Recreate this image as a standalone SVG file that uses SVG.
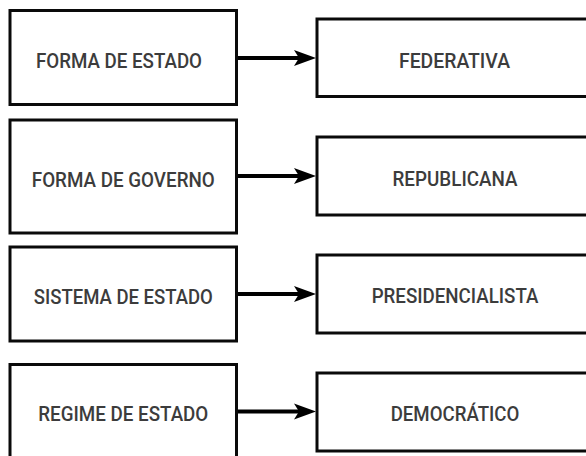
<svg xmlns="http://www.w3.org/2000/svg" width="586" height="456" viewBox="0 0 586 456">
  <style>
    .box { fill: #ffffff; stroke: #0a0a0a; stroke-width: 3; }
    .lbl { font-family: Roboto, "Liberation Sans", "DejaVu Sans", sans-serif; font-weight: 500; font-size: 21px; fill: #3c3c3c; text-anchor: middle; }
    .conn { stroke: #000; stroke-width: 4; fill: none; }
    .head { fill: #000; stroke: none; }
  </style>
  <defs>
    <path id="ah" d="M0,0 L-22,-8 L-17,0 L-22,8 Z"/>
  </defs>
  <rect width="586" height="456" fill="#ffffff"/>

  <g id="connectors">
    <line class="conn" x1="237" y1="58" x2="300" y2="58"/>
    <use href="#ah" class="head" x="316" y="58"/>
    <line class="conn" x1="237" y1="176" x2="300" y2="176"/>
    <use href="#ah" class="head" x="316" y="176"/>
    <line class="conn" x1="237" y1="294" x2="300" y2="294"/>
    <use href="#ah" class="head" x="316" y="294"/>
    <line class="conn" x1="237" y1="411.5" x2="300" y2="411.5"/>
    <use href="#ah" class="head" x="316" y="411.5"/>
  </g>

  <g id="forma-estado">
    <rect class="box" x="10" y="10.5" width="226.5" height="94"/>
    <text class="lbl" x="119" y="68" textLength="166" lengthAdjust="spacingAndGlyphs">FORMA DE ESTADO</text>
  </g>
  <g id="forma-governo">
    <rect class="box" x="10" y="120" width="226.5" height="113"/>
    <text class="lbl" x="123.3" y="186.7" textLength="183" lengthAdjust="spacingAndGlyphs">FORMA DE GOVERNO</text>
  </g>
  <g id="sistema-estado">
    <rect class="box" x="10" y="247" width="226.5" height="94"/>
    <text class="lbl" x="123.3" y="304" textLength="179" lengthAdjust="spacingAndGlyphs">SISTEMA DE ESTADO</text>
  </g>
  <g id="regime-estado">
    <rect class="box" x="10" y="364.5" width="226.5" height="110"/>
    <text class="lbl" x="123.3" y="420.7" textLength="170" lengthAdjust="spacingAndGlyphs">REGIME DE ESTADO</text>
  </g>

  <g id="federativa">
    <rect class="box" x="317" y="19" width="290" height="77.5"/>
    <text class="lbl" x="454.5" y="68" textLength="111" lengthAdjust="spacingAndGlyphs">FEDERATIVA</text>
  </g>
  <g id="republicana">
    <rect class="box" x="317" y="137" width="290" height="78"/>
    <text class="lbl" x="455" y="186" textLength="125" lengthAdjust="spacingAndGlyphs">REPUBLICANA</text>
  </g>
  <g id="presidencialista">
    <rect class="box" x="317" y="255" width="290" height="78"/>
    <text class="lbl" x="455" y="303.3" textLength="166.7" lengthAdjust="spacingAndGlyphs">PRESIDENCIALISTA</text>
  </g>
  <g id="democratico">
    <rect class="box" x="317" y="373" width="290" height="78"/>
    <text class="lbl" x="455" y="420.7" textLength="128.7" lengthAdjust="spacingAndGlyphs">DEMOCRÁTICO</text>
  </g>
</svg>
